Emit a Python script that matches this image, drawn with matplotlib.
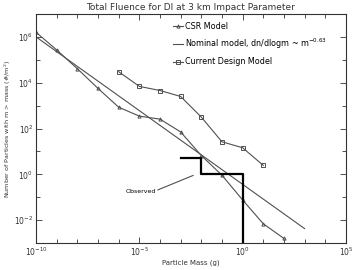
import numpy as np
import matplotlib.pyplot as plt
from matplotlib.ticker import FixedLocator, NullFormatter

# CSR model (cumulative fluence, one point per decade of mass)
csr_mass = [1e-10, 1e-9, 1e-8, 1e-7, 1e-6, 1e-5, 1e-4, 1e-3, 1e-2, 1e-1, 1e0, 1e1, 1e2]
csr_flux = [10**6.2, 10**5.43, 10**4.61, 10**3.75, 10**2.93, 10**2.54, 10**2.41,
            10**1.85, 10**0.82, 10**-0.04, 10**-1.12, 10**-2.16, 10**-2.8]

# Nominal model, power law end points
nom_mass = [1e-10, 1e3]
nom_flux = [1e6, 10**-2.37]

# Current design model
cdm_mass = [1e-6, 1e-5, 1e-4, 1e-3, 1e-2, 1e-1, 1e0, 1e1]
cdm_flux = [10**4.48, 10**3.84, 10**3.66, 10**3.4, 10**2.5, 10**1.42, 10**1.16, 10**0.39]

# Observed (step)
obs_mass = [1e-3, 1e-2, 1e-2, 1e0, 1e0]
obs_flux = [5.4, 5.4, 1.0, 1.0, 1e-3]

fig = plt.figure(figsize=(3.54, 2.70), dpi=100)
ax = fig.add_axes([0.102, 0.1, 0.875, 0.848])

lc = "#505050"
ax.plot(csr_mass, csr_flux, color=lc, lw=0.8, marker="^", ms=2.3, mfc="none",
        mew=0.7, label="CSR Model")
ax.plot(nom_mass, nom_flux, color=lc, lw=0.8,
        label=r"Nominal model, dn/dlogm ~ m$^{-0.63}$")
ax.plot(cdm_mass, cdm_flux, color=lc, lw=0.8, marker="s", ms=2.3, mfc="none",
        mew=0.7, label="Current Design Model")
ax.plot(obs_mass, obs_flux, color="black", lw=1.6)

ax.text(10**-4.95, 10**-0.73, "Observed", fontsize=4.5, ha="center", va="center")
ax.plot([10**-4.1, 10**-2.4], [10**-0.68, 10**-0.05], color=lc, lw=0.8)

ax.set_xscale("log")
ax.set_yscale("log")
ax.set_xlim(1e-10, 1e5)
ax.set_ylim(1e-3, 1e7)

ax.xaxis.set_major_locator(FixedLocator([1e-10, 1e-5, 1e0, 1e5]))
ax.xaxis.set_minor_locator(FixedLocator([10.0**k for k in range(-10, 6)]))
ax.xaxis.set_minor_formatter(NullFormatter())
ax.yaxis.set_major_locator(FixedLocator([1e-2, 1e0, 1e2, 1e4, 1e6]))
ax.yaxis.set_minor_locator(FixedLocator([10.0**k for k in range(-3, 8)]))
ax.yaxis.set_minor_formatter(NullFormatter())
ax.tick_params(which="both", direction="in", top=True, right=True,
               labelsize=5.5, width=0.6, colors="#333333", pad=2)
ax.tick_params(which="major", length=4)
ax.tick_params(which="minor", length=3)
for s in ax.spines.values():
    s.set_linewidth(0.8)
    s.set_color("#333333")

ax.set_title("Total Fluence for DI at 3 km Impact Parameter", fontsize=6.5, pad=3,
             color="#333333")
ax.set_xlabel("Particle Mass (g)", fontsize=5, labelpad=1, color="#333333")
ax.set_ylabel(r"Number of Particles with m > mass (#/m$^2$)", fontsize=4.6,
              labelpad=1, color="#333333")

ax.legend(loc="upper left", fontsize=5.8, frameon=False, handlelength=1.3,
          handletextpad=0.25, labelspacing=0.75, borderaxespad=0,
          bbox_to_anchor=(0.43, 0.98))

fig.savefig("out.png", dpi=100)
